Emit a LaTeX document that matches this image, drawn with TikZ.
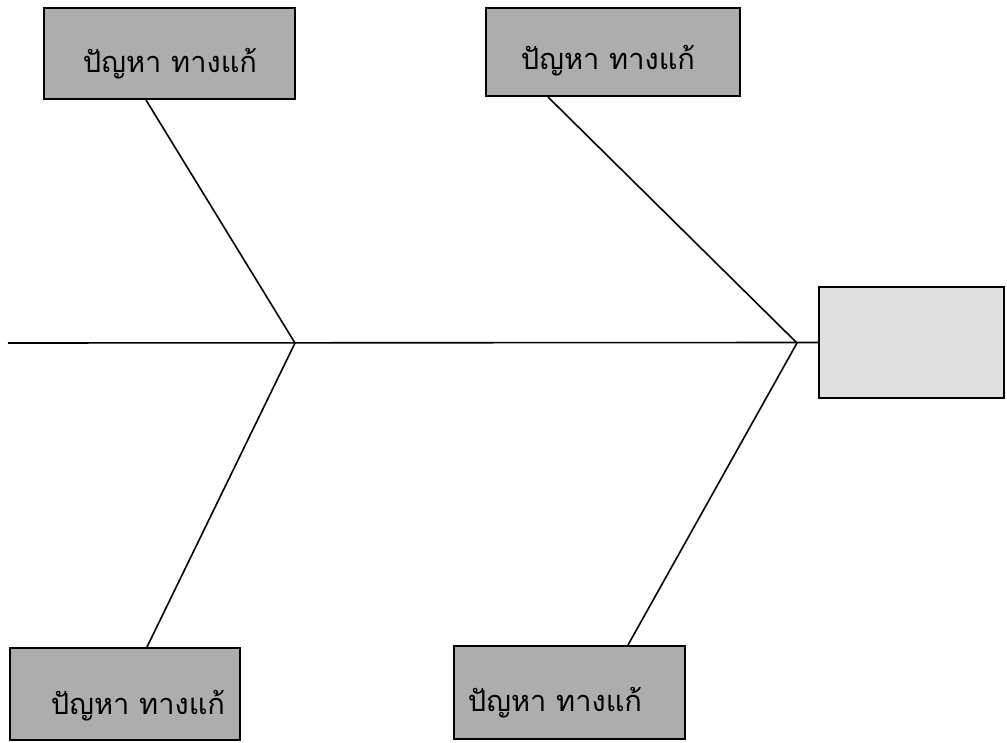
\documentclass[tikz,border=0pt]{standalone}
\usepackage{fontspec}
\newfontfamily\thaifont[Script=Thai]{Loma}
\begin{document}
\begin{tikzpicture}[x=1pt,y=-1pt,
  fishbox/.style={draw=black, line width=2pt, fill=black!32, inner sep=0pt},
  boxtext/.style={inner sep=0pt, font=\thaifont\fontsize{29}{34}\selectfont},
  headbox/.style={draw=black, line width=2pt, fill=black!12, inner sep=0pt},
  bone/.style={line width=1.6pt, draw=black}]
\useasboundingbox (0,0) rectangle (1007,743);
\node[fishbox, minimum width=251pt, minimum height=91pt] (tl) at (169.5,53.5) {};
\node[fishbox, minimum width=254pt, minimum height=88pt] (tr) at (613,52) {};
\node[fishbox, minimum width=230pt, minimum height=92pt] (bl) at (125,694) {};
\node[fishbox, minimum width=231pt, minimum height=93pt] (br) at (569.5,692.5) {};
\node[boxtext] (tlt) at (170,64) {ปัญหา ทางแก้};
\node[boxtext] (trt) at (608,61) {ปัญหา ทางแก้};
\node[boxtext] (blt) at (138,706) {ปัญหา ทางแก้};
\node[boxtext] (brt) at (555,703) {ปัญหา ทางแก้};
\node[headbox, minimum width=185pt, minimum height=111pt] (head) at (911.5,342.5) {};
\coordinate (tail) at (8,343);
\coordinate (j1) at (295,343);
\coordinate (j2) at (797,343);
\coordinate (tla) at ([xshift=103pt]tl.south west);
\coordinate (tra) at ([xshift=63pt]tr.south west);
\coordinate (bla) at ([xshift=138pt]bl.north west);
\coordinate (bra) at ([xshift=175pt]br.north west);
\draw[bone] (tail) -- (head.west);
\draw[bone] (tla) -- (j1) -- (bla);
\draw[bone] (tra) -- (j2) -- (bra);
\end{tikzpicture}
\end{document}
